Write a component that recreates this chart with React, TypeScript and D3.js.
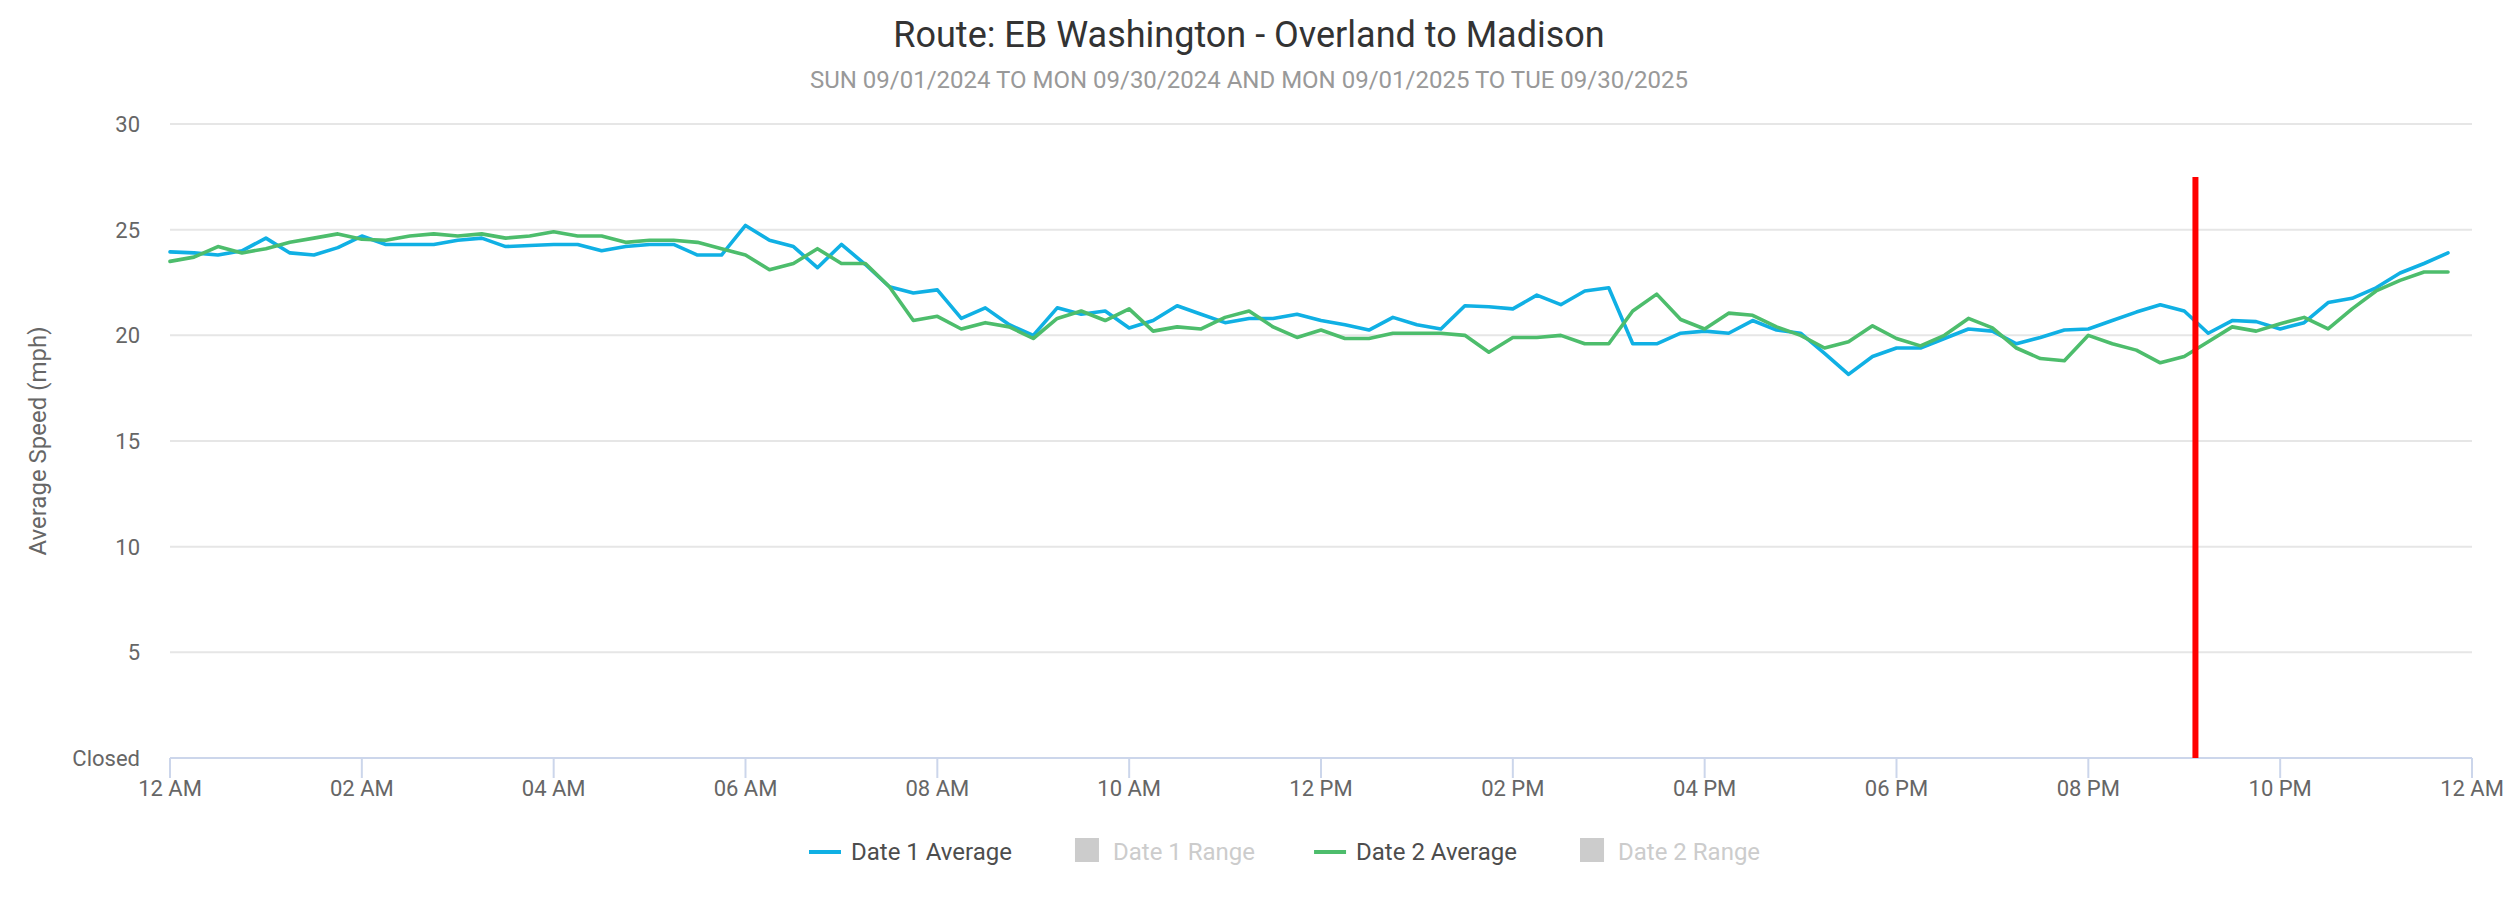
import { useMemo } from 'react';
import * as d3 from 'd3';

const WIDTH = 2513;
const HEIGHT = 904;
const MARGIN = { top: 124, right: 41, bottom: 146, left: 170 };
const FONT = 'Roboto, "Noto Sans", sans-serif';

const BLUE = '#10b0e4';
const GREEN = '#4dbd6c';
const GRID = '#e6e6e6';
const AXIS = '#ccd6eb';

const TITLE = 'Route: EB Washington - Overland to Madison';
const SUBTITLE = 'SUN 09/01/2024 TO MON 09/30/2024 AND MON 09/01/2025 TO TUE 09/30/2025';
const Y_TITLE = 'Average Speed (mph)';

const Y_TICKS = [0, 5, 10, 15, 20, 25, 30];
const Y_TICK_LABELS = ['Closed', '5', '10', '15', '20', '25', '30'];

// one reading every 15 minutes, starting at midnight
const SLOT_MINUTES = 15;
const DAY = '2024-01-01';
const NOW_TIME = '21:07';

const DATE1_AVG = [
  23.95, 23.9, 23.8, 24.0, 24.6, 23.9, 23.8, 24.15, 24.7, 24.3, 24.3, 24.3,
  24.5, 24.6, 24.2, 24.25, 24.3, 24.3, 24.0, 24.2, 24.3, 24.3, 23.8, 23.8,
  25.2, 24.5, 24.2, 23.2, 24.3, 23.35, 22.3, 22.0, 22.15, 20.8, 21.3, 20.5,
  20.0, 21.3, 21.0, 21.15, 20.35, 20.7, 21.4, 21.0, 20.6, 20.8, 20.8, 21.0,
  20.7, 20.5, 20.25, 20.85, 20.5, 20.3, 21.4, 21.35, 21.25, 21.9, 21.45, 22.1,
  22.25, 19.6, 19.6, 20.1, 20.2, 20.1, 20.7, 20.25, 20.1, 19.15, 18.15, 19.0,
  19.4, 19.4, 19.85, 20.3, 20.2, 19.6, 19.9, 20.25, 20.3, 20.7, 21.1, 21.45,
  21.15, 20.1, 20.7, 20.65, 20.3, 20.6, 21.55, 21.75, 22.25, 22.95, 23.4, 23.9,
];

const DATE2_AVG = [
  23.5, 23.7, 24.2, 23.9, 24.1, 24.4, 24.6, 24.8, 24.55, 24.5, 24.7, 24.8,
  24.7, 24.8, 24.6, 24.7, 24.9, 24.7, 24.7, 24.4, 24.5, 24.5, 24.4, 24.1,
  23.8, 23.1, 23.4, 24.1, 23.4, 23.4, 22.3, 20.7, 20.9, 20.3, 20.6, 20.4,
  19.85, 20.8, 21.15, 20.7, 21.25, 20.2, 20.4, 20.3, 20.85, 21.15, 20.4, 19.9,
  20.25, 19.85, 19.85, 20.1, 20.1, 20.1, 20.0, 19.2, 19.9, 19.9, 20.0, 19.6,
  19.6, 21.15, 21.95, 20.75, 20.3, 21.05, 20.95, 20.4, 20.0, 19.4, 19.7, 20.45,
  19.85, 19.5, 20.0, 20.8, 20.35, 19.4, 18.9, 18.8, 20.0, 19.6, 19.3, 18.7,
  19.0, 19.7, 20.4, 20.2, 20.55, 20.85, 20.3, 21.25, 22.1, 22.6, 23.0, 23.0,
];

const LEGEND_NAMES = ['Date 1 Average', 'Date 1 Range', 'Date 2 Average', 'Date 2 Range'];
const LEGEND_SYMBOLS = ['line', 'rect', 'line', 'rect'];
const LEGEND_COLORS = [BLUE, '#cccccc', GREEN, '#cccccc'];
const LEGEND_VISIBLE = [true, false, true, false];

function textWidth(text: string, font: string) {
  const ctx = document.createElement('canvas').getContext('2d');
  if (!ctx) return text.length * 12;
  ctx.font = font;
  return ctx.measureText(text).width;
}

export default function App() {
  const innerRight = WIDTH - MARGIN.right;
  const innerBottom = HEIGHT - MARGIN.bottom;

  const start = d3.timeParse('%Y-%m-%d')(DAY)!;
  const end = d3.timeDay.offset(start, 1);

  const x = d3.scaleTime().domain([start, end]).range([MARGIN.left, innerRight]);
  const y = d3.scaleLinear().domain([0, 30]).range([innerBottom, MARGIN.top]);

  const xTicks = d3.timeHour.every(2)!.range(start, d3.timeMinute.offset(end, 1));
  const fmt = d3.timeFormat('%I %p');

  const line = d3
    .line<number>()
    .x((_, i) => x(d3.timeMinute.offset(start, i * SLOT_MINUTES)))
    .y((d) => y(d));

  const nowDate = d3.timeParse('%Y-%m-%d %H:%M')(`${DAY} ${NOW_TIME}`)!;
  const nowX = x(nowDate);

  const legend = useMemo(() => {
    const font = `24px ${FONT}`;
    let cx = 809;
    return LEGEND_NAMES.map((name, i) => {
      const item = { name, x: cx, i };
      cx += 32 + 10 + textWidth(name, font) + 59;
      return item;
    });
  }, []);

  return (
    <svg
      width={WIDTH}
      height={HEIGHT}
      style={{ position: 'absolute', left: 0, top: 0, background: '#fff' }}
      fontFamily={FONT}
    >
      <rect width={WIDTH} height={HEIGHT} fill="#fff" />

      <text x={1249} y={47} textAnchor="middle" fontSize={36} fill="#333333">
        {TITLE}
      </text>
      <text x={1249} y={88} textAnchor="middle" fontSize={24} fill="#999999">
        {SUBTITLE}
      </text>

      {/* grid + y labels */}
      {Y_TICKS.map((t, i) => (
        <g key={t}>
          {t > 0 && (
            <line x1={MARGIN.left} x2={innerRight} y1={y(t)} y2={y(t)} stroke={GRID} strokeWidth={2} />
          )}
          <text x={140} y={y(t) + 8} textAnchor="end" fontSize={22} fill="#666666">
            {Y_TICK_LABELS[i]}
          </text>
        </g>
      ))}

      <text
        transform={`translate(38, ${(MARGIN.top + innerBottom) / 2}) rotate(-90)`}
        textAnchor="middle"
        dominantBaseline="central"
        fontSize={24}
        fill="#666666"
      >
        {Y_TITLE}
      </text>

      {/* x axis */}
      <line x1={MARGIN.left} x2={innerRight} y1={innerBottom} y2={innerBottom} stroke={AXIS} strokeWidth={2} />
      {xTicks.map((t) => (
        <g key={+t}>
          <line x1={x(t)} x2={x(t)} y1={innerBottom} y2={innerBottom + 20} stroke={AXIS} strokeWidth={2} />
          <text x={x(t)} y={innerBottom + 38} textAnchor="middle" fontSize={22} fill="#666666">
            {fmt(t)}
          </text>
        </g>
      ))}

      {/* series */}
      <path d={line(DATE1_AVG) ?? ''} fill="none" stroke={BLUE} strokeWidth={3.6} strokeLinejoin="round" strokeLinecap="round" />
      <path d={line(DATE2_AVG) ?? ''} fill="none" stroke={GREEN} strokeWidth={3.6} strokeLinejoin="round" strokeLinecap="round" />

      {/* current time marker */}
      <line x1={nowX} x2={nowX} y1={MARGIN.top + 53} y2={innerBottom} stroke="#ff0000" strokeWidth={6} />

      {/* legend */}
      {legend.map(({ name, x: lx, i }) => (
        <g key={name}>
          {LEGEND_SYMBOLS[i] === 'line' ? (
            <line x1={lx} x2={lx + 32} y1={852} y2={852} stroke={LEGEND_COLORS[i]} strokeWidth={4} />
          ) : (
            <rect x={lx + 4} y={838} width={24} height={24} fill={LEGEND_COLORS[i]} />
          )}
          <text x={lx + 42} y={860} fontSize={24} fill={LEGEND_VISIBLE[i] ? '#4d4d4d' : '#cccccc'}>
            {name}
          </text>
        </g>
      ))}
    </svg>
  );
}
